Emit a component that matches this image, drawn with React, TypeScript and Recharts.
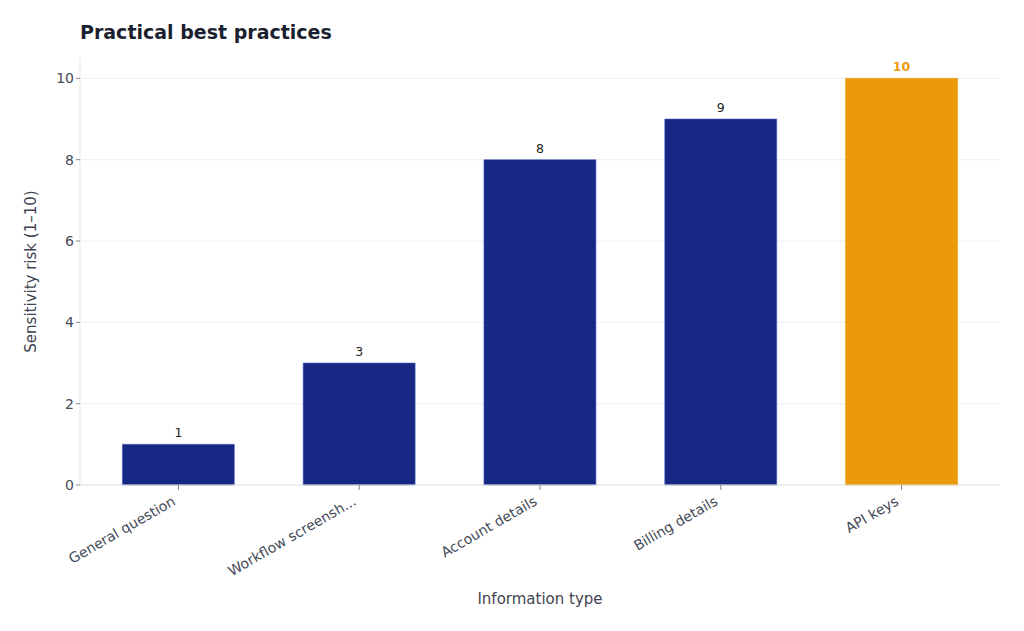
import { BarChart, Bar, XAxis, YAxis, CartesianGrid, Cell, LabelList, Label } from "recharts";

// values
const categories = ["General question", "Workflow screenshots", "Account details", "Billing details", "API keys"];
const risk = [1, 3, 8, 9, 10];
const yTicks = [0, 2, 4, 6, 8, 10];

const NAVY = "#172884";
const ORANGE = "#EA9A0C";
const FONT = "'DejaVu Sans', sans-serif";

const data = categories.map((name, i) => ({ name, risk: risk[i] }));

const shorten = (s: string) => (s.length > 18 ? s.slice(0, 17) + "..." : s);

const isTop = (i: number) => i === risk.length - 1;

function ValueLabel(props: any) {
  const { x, y, width, value, index } = props;
  const hot = isTop(index);
  return (
    <text
      x={x + width / 2}
      y={y - 7}
      textAnchor="middle"
      fontSize={12.5}
      fontFamily={FONT}
      fontWeight={hot ? 700 : 400}
      fill={hot ? ORANGE : "#222"}
    >
      {value}
    </text>
  );
}

function YLabel(props: any) {
  const { viewBox } = props;
  const cx = viewBox.x + 7;
  const cy = viewBox.y + viewBox.height / 2;
  return (
    <text
      x={cx}
      y={cy}
      transform={`rotate(-90 ${cx} ${cy})`}
      textAnchor="middle"
      dominantBaseline="central"
      fontSize={15}
      fontFamily={FONT}
      fill="#3f4350"
    >
      Sensitivity risk (1–10)
    </text>
  );
}

// rotated category tick, right end sits just left of the tick mark
function XTick(props: any) {
  const { x, y, payload } = props;
  return (
    <text
      x={x - 2}
      y={y + 10}
      transform={`rotate(-30 ${x - 2} ${y + 10})`}
      textAnchor="end"
      fontSize={14}
      fontFamily={FONT}
      fill="#444a57"
    >
      {shorten(payload.value)}
    </text>
  );
}

export default function App() {
  return (
    <div style={{ position: "absolute", left: 0, top: 0, width: 1024, height: 631, background: "#fff", fontFamily: FONT }}>
      <div
        style={{
          position: "absolute",
          left: 80,
          top: 21,
          fontSize: 19,
          fontWeight: 700,
          color: "#1b1f2f",
          fontFamily: FONT,
        }}
      >
        Practical best practices
      </div>
      <BarChart
        width={1024}
        height={631}
        data={data}
        margin={{ top: 58, right: 24, bottom: 10, left: 24 }}
        barCategoryGap="19%"
      >
        <CartesianGrid vertical={false} stroke="#efefef" horizontalValues={yTicks} />
        <XAxis
          dataKey="name"
          height={136}
          interval={0}
          padding={{ left: 8, right: 8 }}
          tick={<XTick />}
          tickSize={5}
          tickMargin={4}
          tickLine={{ stroke: "#888" }}
          axisLine={{ stroke: "#e3e3e3" }}
        >
          <Label value="Information type" position="insideBottom" offset={17} fontSize={15} fill="#3f4350" fontFamily={FONT} />
        </XAxis>
        <YAxis
          width={56}
          domain={[0, 10.5]}
          ticks={yTicks}
          tick={{ fontSize: 14, fill: "#444a57", fontFamily: FONT }}
          tickSize={4}
          tickLine={{ stroke: "#888" }}
          axisLine={{ stroke: "#e3e3e3" }}
        >
          <Label content={<YLabel />} />
        </YAxis>
        <Bar dataKey="risk" isAnimationActive={false} stroke="#4f63c4" strokeWidth={0.6}>
          {data.map((d, i) => (
            <Cell key={d.name} fill={isTop(i) ? ORANGE : NAVY} stroke={isTop(i) ? ORANGE : "#4f63c4"} />
          ))}
          <LabelList dataKey="risk" content={<ValueLabel />} />
        </Bar>
      </BarChart>
    </div>
  );
}
